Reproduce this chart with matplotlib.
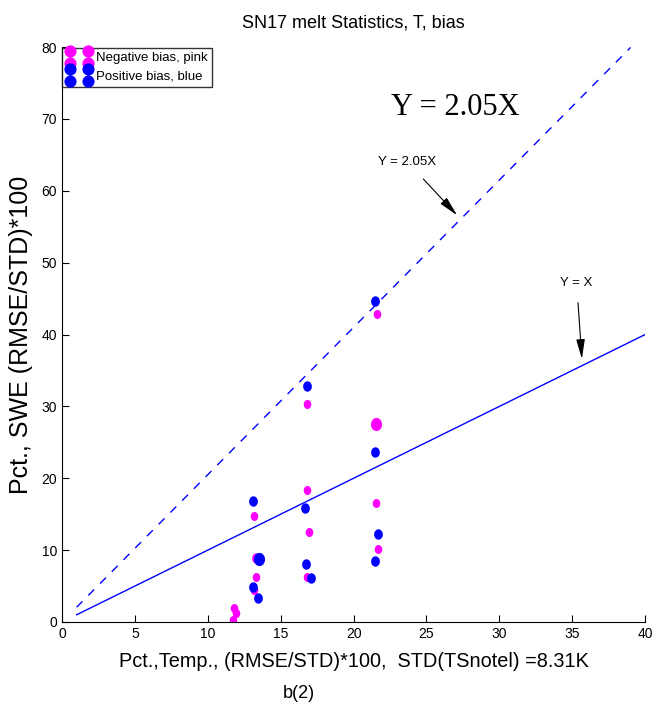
import matplotlib
matplotlib.use("Agg")
import matplotlib.pyplot as plt
from matplotlib.path import Path
import numpy as np

plt.rcParams['font.family'] = ['Liberation Sans', 'DejaVu Sans']

# Negative bias (pink) points
neg_x = [11.7, 11.9, 11.8, 13.3, 13.3, 13.2, 13.2, 16.8, 16.8, 16.95, 16.8, 21.6, 21.55, 21.55, 21.65]
neg_y = [0.3, 1.2, 1.9, 6.2, 8.9, 4.45, 14.7, 30.4, 18.3, 12.5, 6.2, 42.8, 27.5, 16.5, 10.1]
neg_s = [6.5, 6.5, 6.5, 6.5, 7.5, 6.5, 6.5, 6.5, 6.5, 6.5, 6.5, 6.5, 9.5, 6.5, 6.5]

# Positive bias (blue) points
pos_x = [13.1, 13.5, 13.1, 13.45, 16.8, 16.7, 16.75, 17.05, 21.5, 21.5, 21.65, 21.5]
pos_y = [16.9, 8.7, 4.8, 3.4, 32.8, 15.8, 8.1, 6.1, 44.6, 23.7, 12.2, 8.5]
pos_s = [7.5, 9.5, 7.5, 7.5, 7.5, 7.5, 7.5, 7.5, 7.5, 7.5, 7.5, 7.5]

line_x = [1, 40]
slope = 2.05
dash_x = [1, 39]

# slightly tall ellipse marker
t = np.linspace(0, 2 * np.pi, 40)
ell = Path(np.column_stack([0.42 * np.cos(t), 0.5 * np.sin(t)]), closed=True)
# two stacked circles for legend samples
c_top = np.column_stack([0.5 * np.cos(t), 0.5 + 0.5 * np.sin(t)])
c_bot = np.column_stack([0.5 * np.cos(t), -0.5 + 0.5 * np.sin(t)])
dbl = Path.make_compound_path(Path(c_top, closed=True), Path(c_bot, closed=True))

fig = plt.figure(figsize=(6.53, 7.08), dpi=100)
ax = fig.add_axes([0.095, 0.1215, 0.893, 0.812])

ax.plot(line_x, line_x, '-', color='#0000ff', lw=1)
ax.plot(dash_x, [slope * v for v in dash_x], '--', color='#0000ff', lw=1, dashes=(6, 6))

for x, y, s in zip(neg_x, neg_y, neg_s):
    ax.plot(x, y, marker=ell, color='#ff00ff', ms=s, mec='none', ls='none')
for x, y, s in zip(pos_x, pos_y, pos_s):
    ax.plot(x, y, marker=ell, color='#0000ff', ms=s, mec='none', ls='none')

# legend handles
h1, = ax.plot([], [], marker=dbl, color='#ff00ff', ms=17.5, mec='none', ls='none')
h2, = ax.plot([], [], marker=dbl, color='#0000ff', ms=17.5, mec='none', ls='none')
leg = ax.legend([h1, h2], ['Negative bias, pink', 'Positive bias, blue'],
                loc='upper left', bbox_to_anchor=(0.0, 0.998), numpoints=2,
                fontsize=9.5, frameon=True, fancybox=False, edgecolor='black',
                borderpad=0.3, handlelength=2.0, handletextpad=0.3,
                labelspacing=0.45, borderaxespad=0.0, markerscale=1.0)
leg.get_frame().set_linewidth(1.0)

ax.text(27, 71.6, 'Y = 2.05X', fontsize=22, family='Liberation Serif',
        ha='center', va='center')
ax.annotate('Y = 2.05X', xy=(27.1, 56.6), xytext=(23.7, 64.0),
            fontsize=9.5, ha='center', va='center',
            arrowprops=dict(arrowstyle='-|>,head_length=1.0,head_width=0.22',
                            color='black', lw=0.8,
                            shrinkA=8, shrinkB=0, mutation_scale=12))
ax.annotate('Y = X', xy=(35.66, 36.6), xytext=(35.3, 47.2),
            fontsize=9.5, ha='center', va='center',
            arrowprops=dict(arrowstyle='-|>,head_length=1.0,head_width=0.22',
                            color='black', lw=0.8,
                            shrinkA=8, shrinkB=0, mutation_scale=12))

ax.set_xlim(0, 40)
ax.set_ylim(0, 80)
ax.set_xticks(np.arange(0, 41, 5))
ax.set_yticks(np.arange(0, 81, 10))
ax.tick_params(direction='in', labelsize=10, length=5)
ax.spines['top'].set_visible(False)
ax.spines['right'].set_visible(False)

ax.set_title('SN17 melt Statistics, T, bias', fontsize=13, pad=14)
ax.set_xlabel('Pct.,Temp., (RMSE/STD)*100,  STD(TSnotel) =8.31K', fontsize=14.3, labelpad=8)
ax.set_ylabel('Pct., SWE (RMSE/STD)*100', fontsize=18, labelpad=6)
fig.text(0.457, 0.021, 'b(2)', fontsize=13, ha='center', va='center')

fig.savefig('out.png', dpi=100)
